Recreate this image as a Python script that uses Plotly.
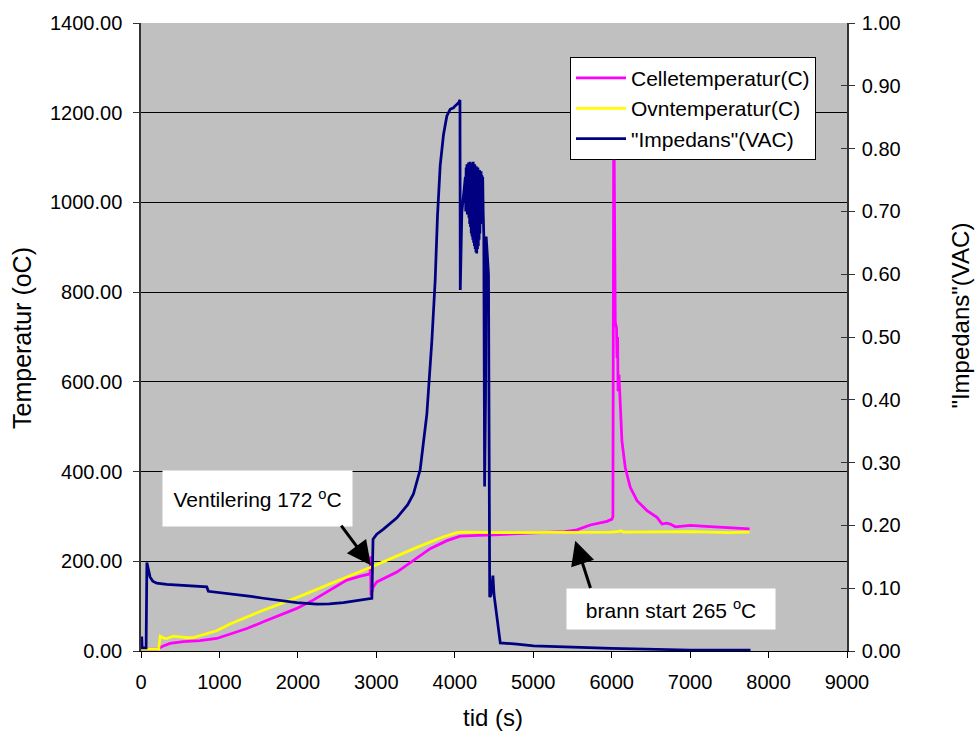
import plotly.graph_objects as go

# --- Cell temperature (°C) vs time (s)
celle_t = [0, 200, 284, 370, 540, 753, 965, 1150, 1350, 1560, 1775, 1986, 2200, 2411,
           2624, 2800, 2921, 2926, 2932, 2960, 3006, 3262, 3517, 3686, 3900, 4069, 4300,
           4494, 5089, 5400, 5557, 5727, 5940, 6004, 6016, 6022, 6027, 6038, 6046, 6062,
           6068, 6076, 6081, 6093, 6105, 6131, 6173, 6237, 6323, 6450, 6578, 6642, 6700,
           6747, 6811, 6900, 7002, 7200, 7427, 7759]
celle_temp = [4, 4, 11, 17, 21, 23, 28, 38, 50, 65, 80, 95, 114, 135,
              158, 167, 172, 211, 124, 143, 154, 176, 207, 228, 246, 256, 258,
              259, 264, 266, 270, 281, 289, 294, 300, 800, 1250, 950, 734, 720,
              653, 700, 579, 616, 572, 468, 409, 365, 335, 313, 298, 283, 285,
              283, 277, 279, 280, 278, 276, 272]

# --- Oven temperature (°C) vs time (s)
ovn_t = [0, 225, 245, 300, 330, 412, 583, 667, 965, 1135, 1518, 1986, 2500, 2921,
         3517, 3686, 3850, 4027, 4100, 4500, 5000, 5500, 6000, 6080, 6110, 6150,
         6500, 7000, 7500, 7759]
ovn_temp = [4, 4, 33, 28, 28, 33, 30, 30, 45, 60, 88, 119, 156, 186,
            231, 243, 254, 264, 265, 264, 264, 265, 265, 266, 268, 265,
            265, 266, 264, 265]

# --- "Impedans" (VAC) vs time (s)
imp_t = [0, 9, 15, 65, 75, 90, 115, 150, 200, 328, 550, 753, 838, 859, 1000, 1178,
         1400, 1560, 1800, 1986, 2241, 2400, 2580, 2836, 2943, 2958, 3006, 3091,
         3262, 3400, 3473, 3559, 3644, 3708, 3750, 3780, 3814, 3856, 3899, 3941,
         3984, 4005, 4048, 4066, 4070, 4090, 4112, 4135,
         4140, 4145, 4150, 4155, 4160, 4165, 4170, 4175, 4180, 4185, 4190, 4195,
         4200, 4205, 4210, 4215, 4220, 4225, 4230, 4235, 4240, 4245, 4250, 4255,
         4260, 4265, 4270, 4275, 4280, 4285, 4290, 4295, 4300, 4305, 4310, 4315,
         4320, 4325, 4330, 4335, 4340, 4345, 4350, 4356, 4362,
         4370, 4380, 4392, 4400, 4412, 4430, 4445, 4458, 4472, 4480, 4486, 4500,
         4580, 4792, 5004, 6000, 7000, 7770]
imp_vac = [0.005, 0.023, 0.005, 0.005, 0.141, 0.130, 0.118, 0.111, 0.108, 0.106,
           0.104, 0.103, 0.102, 0.095, 0.093, 0.091, 0.087, 0.084, 0.080, 0.077,
           0.0745, 0.075, 0.077, 0.082, 0.084, 0.178, 0.186, 0.194, 0.212, 0.233,
           0.250, 0.289, 0.377, 0.494, 0.590, 0.694, 0.773, 0.822, 0.852, 0.8626,
           0.865, 0.868, 0.873, 0.8775, 0.575, 0.699, 0.730, 0.755,
           0.700, 0.770, 0.705, 0.775, 0.695, 0.772, 0.700, 0.778, 0.690, 0.775,
           0.680, 0.779, 0.675, 0.770, 0.665, 0.777, 0.660, 0.772, 0.655, 0.779,
           0.650, 0.770, 0.645, 0.775, 0.640, 0.768, 0.635, 0.772, 0.633, 0.765,
           0.640, 0.770, 0.645, 0.762, 0.655, 0.766, 0.665, 0.760, 0.680, 0.764,
           0.700, 0.758, 0.710, 0.755, 0.700, 0.662, 0.262,
           0.400, 0.660, 0.640, 0.600,
           0.086, 0.088, 0.100, 0.118, 0.120, 0.090, 0.013, 0.011, 0.008, 0.004,
           0.0016, 0.0015, 0.0015, 0.0015]

x_ticks = list(range(0, 9001, 1000))
temp_ticks = list(range(0, 1401, 200))
imp_ticks = [round(i * 0.1, 1) for i in range(11)]

FONT = "Liberation Sans, Arial, sans-serif"
PINK = "#FF00FF"
YELLOW = "#FFFF00"
NAVY = "#000080"
LW = 2.75

fig = go.Figure()
fig.add_trace(go.Scatter(x=celle_t, y=celle_temp, mode="lines", name="Celletemperatur(C)",
                         line=dict(color=PINK, width=LW), legendgroup="a"))
fig.add_trace(go.Scatter(x=ovn_t, y=ovn_temp, mode="lines", name="Ovntemperatur(C)",
                         line=dict(color=YELLOW, width=LW), legendgroup="b"))
fig.add_trace(go.Scatter(x=imp_t, y=imp_vac, mode="lines", name='"Impedans"(VAC)',
                         line=dict(color=NAVY, width=LW), yaxis="y2", legendgroup="c"))
# empty trace so the right-hand inner tick axis is drawn
fig.add_trace(go.Scatter(x=[], y=[], yaxis="y3", showlegend=False, hoverinfo="skip"))

axis_font = dict(family=FONT, size=20, color="black")

fig.update_layout(
    width=976, height=736,
    margin=dict(l=141, r=129, t=20, b=85),
    paper_bgcolor="white",
    plot_bgcolor="#C0C0C0",
    font=dict(family=FONT, color="black"),
    showlegend=True,
    legend=dict(
        x=(570 - 141) / 706, y=(651 - 54) / 631, xanchor="left", yanchor="top",
        bgcolor="white", bordercolor="black", borderwidth=1,
        font=dict(family=FONT, size=21, color="black"),
        itemwidth=50, tracegroupgap=5.5, traceorder="normal",
    ),
    xaxis=dict(
        range=[0, 9000], tickvals=x_ticks, ticktext=[str(v) for v in x_ticks],
        ticks="outside", ticklen=6, tickcolor="black", showgrid=False,
        showline=True, linecolor="black", linewidth=1, zeroline=False,
        tickfont=axis_font, ticklabelstandoff=7,
    ),
    yaxis=dict(
        range=[0, 1400], tickvals=temp_ticks, ticktext=[f"{v:.2f}" for v in temp_ticks],
        ticks="outside", ticklen=6, tickcolor="#333333",
        showgrid=True, gridcolor="black", gridwidth=1,
        showline=True, linecolor="#333333", linewidth=1.5, zeroline=False,
        tickfont=axis_font, ticklabelstandoff=7,
    ),
    yaxis2=dict(
        range=[0, 1], tickvals=imp_ticks, ticktext=[f"{v:.2f}" for v in imp_ticks],
        overlaying="y", side="right", anchor="x",
        ticks="outside", ticklen=6, tickcolor="#333333", showgrid=False,
        showline=True, linecolor="#333333", linewidth=1.5, zeroline=False,
        tickfont=axis_font, ticklabelstandoff=3,
    ),
    yaxis3=dict(
        range=[0, 1], tickvals=imp_ticks, overlaying="y", side="right", anchor="x",
        ticks="inside", ticklen=6, tickcolor="#333333", showticklabels=False,
        showgrid=False, showline=False, zeroline=False,
    ),
)

# axis titles
fig.add_annotation(text="Temperatur (oC)", xref="paper", yref="paper",
                   x=(22 - 141) / 706, y=(651 - 336.5) / 631, showarrow=False,
                   textangle=-90, font=dict(family=FONT, size=25, color="black"),
                   xanchor="center", yanchor="middle")
fig.add_annotation(text='"Impedans"(VAC)', xref="paper", yref="paper",
                   x=(961 - 141) / 706, y=(651 - 314) / 631, showarrow=False,
                   textangle=-90, font=dict(family=FONT, size=24, color="black"),
                   xanchor="center", yanchor="middle")
fig.add_annotation(text="tid (s)", xref="paper", yref="paper",
                   x=(492.7 - 141) / 706, y=(651 - 718) / 631, showarrow=False,
                   font=dict(family=FONT, size=24, color="black"),
                   xanchor="center", yanchor="middle")

# event labels in white boxes
fig.add_annotation(text="Ventilering 172 <sup>o</sup>C", x=1480, y=340, xref="x", yref="y",
                   showarrow=False, bgcolor="white", width=189, height=55, borderpad=0,
                   font=dict(family=FONT, size=21, color="black"),
                   xanchor="center", yanchor="middle")
fig.add_annotation(text="brann start 265 <sup>o</sup>C", x=6759, y=94.7, xref="x", yref="y",
                   showarrow=False, bgcolor="white", width=208, height=40, borderpad=0,
                   font=dict(family=FONT, size=21, color="black"),
                   xanchor="center", yanchor="middle")

# arrows pointing at the events
fig.add_annotation(text="", x=2930, y=191, ax=2538, ay=283, xref="x", yref="y",
                   axref="x", ayref="y", showarrow=True, arrowhead=2, arrowsize=1.6,
                   arrowwidth=3, arrowcolor="black")
fig.add_annotation(text="", x=5536, y=246, ax=5736, ay=137, xref="x", yref="y",
                   axref="x", ayref="y", showarrow=True, arrowhead=2, arrowsize=1.6,
                   arrowwidth=3, arrowcolor="black")

fig.write_html("out.html")
